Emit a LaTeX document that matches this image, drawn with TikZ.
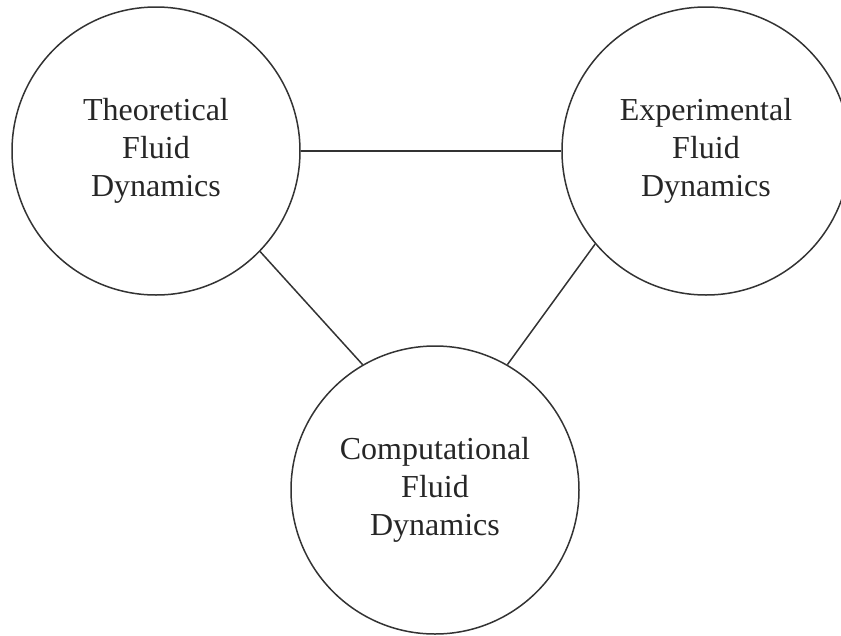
\documentclass[tikz,border=0pt]{standalone}
\usepackage{fontspec}
\setmainfont{Liberation Serif}
\begin{document}
\begin{tikzpicture}[x=1pt,y=-1pt,
  field/.style={circle, draw=black!80, line width=1.5pt, minimum size=288pt, inner sep=0pt,
    align=center, text=black!85, font=\fontsize{32}{38.3}\selectfont},
  link/.style={draw=black!80, line width=1.5pt}]
\useasboundingbox (0,0) rectangle (841,635);
\node[field] (T) at (156,151) {Theoretical\\Fluid\\Dynamics};
\node[field] (E) at (706,151) {Experimental\\Fluid\\Dynamics};
\node[field] (C) at (435,490) {Computational\\Fluid\\Dynamics};
\draw[link] (T.east) -- (E.west);
\draw[link] (T.-44) -- (C.120);
\draw[link] (E.220) -- (C.60);
\end{tikzpicture}
\end{document}
